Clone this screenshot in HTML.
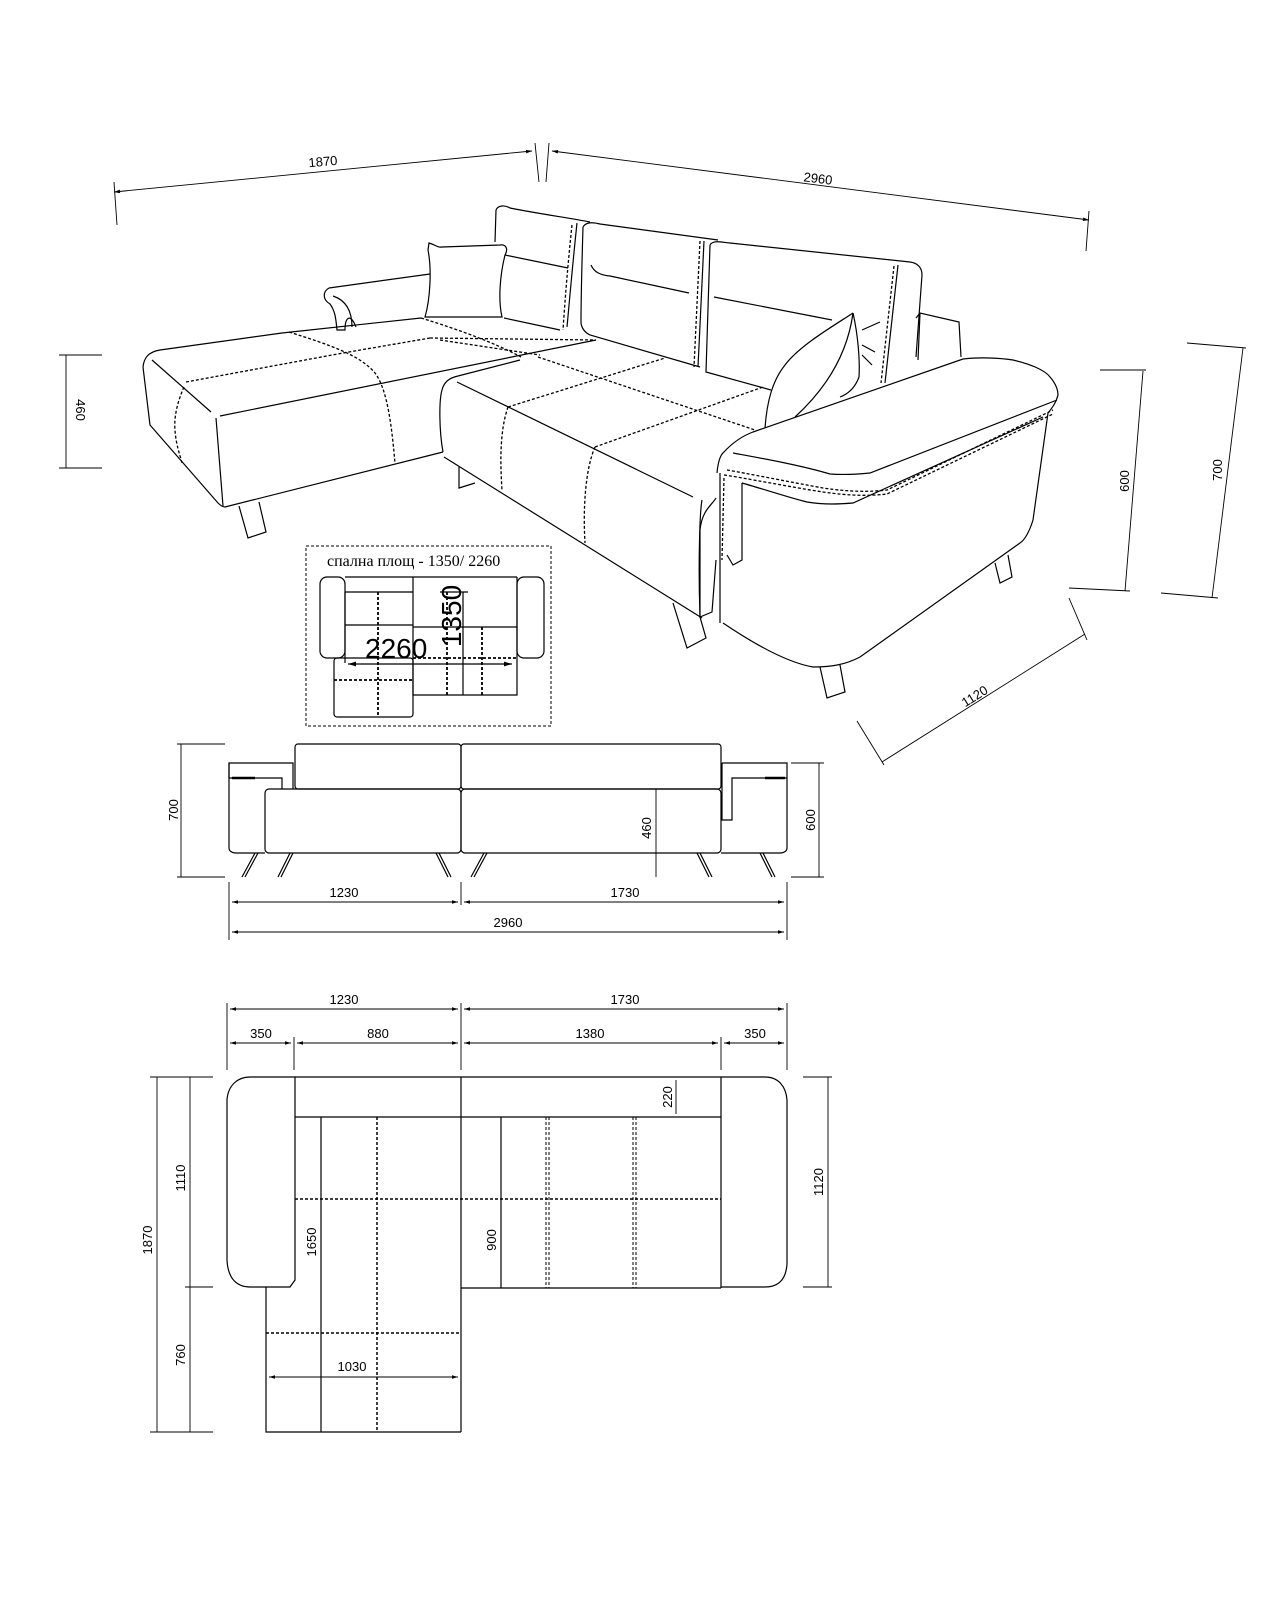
<!DOCTYPE html>
<html><head><meta charset="utf-8"><style>
html,body{margin:0;padding:0;background:#fff}
svg{display:block}
text{font-family:"Liberation Sans",sans-serif;font-size:13px;fill:#000}
.s{fill:none;stroke:#000;stroke-width:1.2}
.d{fill:none;stroke:#000;stroke-width:1.3;stroke-dasharray:3,2}
.t{fill:none;stroke:#000;stroke-width:0.9}
</style></head><body>
<svg width="1280" height="1600" viewBox="0 0 1280 1600" xmlns="http://www.w3.org/2000/svg">
<defs><marker id="a" viewBox="0 0 10 6" refX="10" refY="3" markerWidth="8" markerHeight="4" orient="auto-start-reverse"><path d="M0,0 L10,3 L0,6z" fill="#000"/></marker></defs>

<!-- ===== Perspective dims ===== -->
<g class="t">
<line x1="114" y1="192" x2="532" y2="151" marker-start="url(#a)" marker-end="url(#a)"/>
<line x1="114" y1="182" x2="117" y2="225"/><line x1="535" y1="143" x2="539" y2="182"/>
<line x1="552" y1="151" x2="1089" y2="220" marker-start="url(#a)" marker-end="url(#a)"/>
<line x1="549" y1="143" x2="546" y2="182"/><line x1="1089" y1="211" x2="1086" y2="251"/>
<line x1="66" y1="355" x2="66" y2="468"/><line x1="59" y1="355" x2="102" y2="355"/><line x1="59" y1="468" x2="102" y2="468"/>
<line x1="1143" y1="371" x2="1125" y2="591"/><line x1="1100" y1="370" x2="1146" y2="370"/><line x1="1069" y1="588" x2="1130" y2="591"/>
<line x1="1243" y1="348" x2="1212" y2="598"/><line x1="1187" y1="343" x2="1246" y2="348"/><line x1="1161" y1="593" x2="1218" y2="598"/>
<line x1="882" y1="762" x2="1085" y2="634"/><line x1="857" y1="721" x2="884" y2="765"/><line x1="1069" y1="598" x2="1087" y2="640"/>
</g>
<text x="323" y="166" text-anchor="middle" transform="rotate(-5 323 162)">1870</text>
<text x="818" y="183" text-anchor="middle" transform="rotate(7 818 179)">2960</text>
<text transform="translate(76,410) rotate(90)" text-anchor="middle">460</text>
<text transform="translate(1129,481) rotate(-90)" text-anchor="middle">600</text>
<text transform="translate(1222,470) rotate(-90)" text-anchor="middle">700</text>
<text transform="translate(977,700) rotate(-32)" text-anchor="middle">1120</text>

<!-- ===== Perspective sofa ===== -->
<g class="s">
<!-- left arm back -->
<path d="M329,288 L430,274"/>
<path d="M329,288 C322,292 323,300 330,304 C336,312 336,322 337,330 L345,330 C345,318 350,312 356,327"/>
<path d="M333,296 C345,300 352,310 352,327"/>
<!-- left pillow -->
<path d="M429,243 C436,245 438,248 442,247 L500,245 C507,244 508,250 505,255 C500,275 498,300 502,317 L425,317 C430,300 432,270 428,250 Z"/>
<!-- cushion 1 -->
<path d="M496,210 C498,205 505,205 510,208 C540,214 570,218 590,222"/>
<path d="M496,210 L495,242"/><path d="M505,255 L568,268"/>
<path d="M504,318 L560,330"/>
<path d="M577,223 C573,260 570,295 567,327"/>
<path d="M572,225 C568,262 565,300 563,330" class="d"/>
<!-- cushion 2 -->
<path d="M583,227 C586,222 592,222 600,224 L718,240"/>
<path d="M583,227 C582,260 581,300 581,323 C582,330 586,333 590,335 L700,367"/>
<path d="M591,265 C594,272 600,275 610,276 L689,293"/>
<path d="M704,241 L698,367"/><path d="M700,241 L694,367" class="d"/>
<!-- cushion 3 -->
<path d="M710,245 C713,240 720,242 730,243 L910,262 C918,263 922,268 922,275 L916,357"/>
<path d="M710,245 L706,372 L771,390"/>
<path d="M714,297 L832,320"/>
<path d="M898,265 L885,383"/><path d="M894,266 L881,383" class="d"/>
<!-- back box right -->
<path d="M916,318 L920,313 L959,322 L961,357"/><path d="M920,313 L918,360"/>
<!-- right pillow -->
<path d="M853,313 C835,325 800,345 785,365 C773,380 767,400 765,428"/>
<path d="M853,313 C848,350 830,385 795,417"/>
<path d="M853,313 C858,335 860,360 859,377 C855,388 848,394 840,397"/>
<path d="M862,330 L880,322 M862,345 L875,352 M862,355 L872,365"/>
<!-- chaise -->
<path d="M143,367 C144,358 148,352 160,350 L282,333 L421,318"/>
<path d="M143,367 L150,425 L218,503 C221,506 223,507 225,507 L443,452"/>
<path d="M152,360 L211,412"/>
<path d="M216,418 L223,506"/>
<path d="M220,416 L596,340"/>
<path d="M239,506 L248,538 L266,532 L259,502"/>
<!-- main seat -->
<path d="M443,452 C439,430 439,400 442,390 C444,382 449,378 458,376 L520,360"/>
<path d="M444,457 L702,618"/>
<path d="M457,382 L693,497"/>
<path d="M702,500 C700,510 698,560 700,617"/>
<path d="M459,467 L459,488 L475,483"/>
<path d="M673,603 L687,648 L706,638 L700,617"/>
<!-- arm (right) -->
<path d="M717,473 C718,462 720,455 724,452 C735,440 745,435 753,432 L963,359 C980,357 1000,358 1013,360 C1030,364 1045,370 1050,377 C1057,385 1058,392 1058,395 C1056,403 1052,408 1048,413 L1033,520 C1030,530 1025,540 1020,543 L860,657 C845,665 830,667 813,667 C790,663 760,648 723,623"/>
<path d="M720,473 L720,623"/>
<path d="M733,453 C760,458 800,465 830,474 C845,475 860,474 870,473 L1057,400"/>
<path d="M742,483 L742,560 L733,565 L727,555 M742,483 C760,488 790,498 807,502 C825,505 840,504 853,503 L1043,417"/>
<path d="M727,470 C745,473 790,482 823,488 C850,492 870,492 887,490 L1053,410" class="d"/>
<path d="M724,475 C745,478 790,487 823,492 C850,496 870,496 887,494 L1053,414" class="d"/>
<path d="M724,478 L722,560" class="d"/>
<path d="M716,498 C712,505 702,510 700,530 L700,617 L712,612 L716,560"/>
<path d="M820,667 L827,698 L845,692 L840,665"/>
<path d="M995,563 L1000,583 L1012,577 L1008,555"/>
</g>
<g class="d">
<path d="M186,382 L343,353 L430,338"/>
<path d="M184,387 C176,405 174,420 175,430 C176,445 180,455 182,463"/>
<path d="M289,332 C330,345 360,355 375,373 C388,390 392,430 395,463"/>
<path d="M421,318 C460,330 495,343 521,357"/>
<path d="M430,338 L596,340"/>
<path d="M508,407 L665,358"/>
<path d="M595,447 L763,387"/>
<path d="M508,407 C500,430 500,460 502,490"/>
<path d="M595,447 C585,470 583,510 585,543"/>
<path d="M538,357 L755,430"/>
<path d="M440,340 L540,355"/>
</g>

<!-- ===== Inset ===== -->
<rect x="306" y="546" width="245" height="180" class="d" style="stroke-width:1"/>
<text x="327" y="566" style="font-family:'Liberation Serif',serif;font-size:16px">спална площ - 1350/ 2260</text>
<g class="s">
<rect x="320" y="577" width="25" height="81" rx="7"/>
<rect x="517" y="577" width="27" height="81" rx="7"/>
<path d="M345,577 H517 M345,592 H413 M413,577 V695 H517 V577 M345,592 V663 M345,625 H413 M413,627 H517"/>
<rect x="334" y="658" width="79" height="59" rx="3"/>
<line x1="463" y1="592" x2="463" y2="695"/>
<line x1="440" y1="592" x2="468" y2="592"/>
<line x1="348" y1="664" x2="512" y2="664" marker-start="url(#a)" marker-end="url(#a)"/>
</g>
<g class="d" style="stroke-width:1.8">
<line x1="378" y1="592" x2="378" y2="717"/><line x1="334" y1="680" x2="413" y2="680"/>
<line x1="413" y1="658" x2="517" y2="658"/><line x1="447" y1="592" x2="447" y2="695"/>
<line x1="482" y1="627" x2="482" y2="695"/>
</g>
<text x="365" y="658" style="font-size:28px">2260</text>
<text transform="translate(461,616) rotate(-90)" text-anchor="middle" style="font-size:28px">1350</text>

<!-- ===== Front view ===== -->
<g class="s">
<rect x="295" y="744" width="166" height="45" rx="3"/>
<rect x="461" y="744" width="260" height="45" rx="3"/>
<rect x="265" y="789" width="196" height="64" rx="4"/>
<rect x="461" y="789" width="260" height="64" rx="4"/>
<path d="M282,789 V778 H229 V763 H293 V789"/>
<path d="M229,763 V848 C229,851 232,853 236,853 H265"/>
<path d="M232,778 H255" style="stroke-width:2.5"/>
<path d="M722,763 H787 V848 C787,851 784,853 780,853 H721"/>
<path d="M722,763 V820 H732 V778 H787"/>
<path d="M765,778 H785" style="stroke-width:2.5"/>
<path d="M255,853 L242,877 M258,853 L245,877 M290,853 L278,877 M293,853 L281,877 M436,853 L448,877 M439,853 L451,877 M484,853 L471,877 M487,853 L474,877 M697,853 L709,877 M700,853 L712,877 M760,853 L772,877 M763,853 L775,877"/>
</g>
<g class="t">
<line x1="656" y1="789" x2="656" y2="877"/>
<line x1="181" y1="744" x2="181" y2="877"/><line x1="177" y1="744" x2="225" y2="744"/><line x1="177" y1="877" x2="225" y2="877"/>
<line x1="819" y1="763" x2="819" y2="877"/><line x1="791" y1="763" x2="824" y2="763"/><line x1="791" y1="877" x2="824" y2="877"/>
<line x1="229" y1="882" x2="229" y2="940"/><line x1="461" y1="882" x2="461" y2="905"/><line x1="787" y1="882" x2="787" y2="940"/>
<line x1="232" y1="902" x2="458" y2="902" marker-start="url(#a)" marker-end="url(#a)"/>
<line x1="464" y1="902" x2="784" y2="902" marker-start="url(#a)" marker-end="url(#a)"/>
<line x1="232" y1="932" x2="784" y2="932" marker-start="url(#a)" marker-end="url(#a)"/>
</g>
<text transform="translate(651,828) rotate(-90)" text-anchor="middle">460</text>
<text transform="translate(178,810) rotate(-90)" text-anchor="middle">700</text>
<text transform="translate(815,820) rotate(-90)" text-anchor="middle">600</text>
<text x="344" y="897" text-anchor="middle">1230</text>
<text x="625" y="897" text-anchor="middle">1730</text>
<text x="508" y="927" text-anchor="middle">2960</text>

<!-- ===== Top view ===== -->
<g class="t">
<line x1="227" y1="1003" x2="227" y2="1070"/><line x1="294" y1="1037" x2="294" y2="1070"/>
<line x1="461" y1="1003" x2="461" y2="1070"/><line x1="721" y1="1037" x2="721" y2="1070"/>
<line x1="787" y1="1003" x2="787" y2="1070"/>
<line x1="230" y1="1009" x2="458" y2="1009" marker-start="url(#a)" marker-end="url(#a)"/>
<line x1="464" y1="1009" x2="784" y2="1009" marker-start="url(#a)" marker-end="url(#a)"/>
<line x1="230" y1="1043" x2="291" y2="1043" marker-start="url(#a)" marker-end="url(#a)"/>
<line x1="297" y1="1043" x2="458" y2="1043" marker-start="url(#a)" marker-end="url(#a)"/>
<line x1="464" y1="1043" x2="718" y2="1043" marker-start="url(#a)" marker-end="url(#a)"/>
<line x1="724" y1="1043" x2="784" y2="1043" marker-start="url(#a)" marker-end="url(#a)"/>
<line x1="157" y1="1077" x2="157" y2="1432"/><line x1="190" y1="1077" x2="190" y2="1432"/>
<line x1="150" y1="1077" x2="213" y2="1077"/><line x1="185" y1="1287" x2="213" y2="1287"/><line x1="150" y1="1432" x2="213" y2="1432"/>
<line x1="828" y1="1077" x2="828" y2="1287"/><line x1="803" y1="1077" x2="832" y2="1077"/><line x1="803" y1="1287" x2="832" y2="1287"/>
<line x1="269" y1="1377" x2="458" y2="1377" marker-start="url(#a)" marker-end="url(#a)"/>
<line x1="676" y1="1080" x2="676" y2="1114"/>
</g>
<g class="s">
<path d="M250,1077 H295 V1280 L290,1287 H250 C238,1287 228,1280 227,1260 V1100 C228,1085 238,1077 250,1077 Z"/>
<path d="M295,1077 H721 M295,1117 H721 M461,1077 V1432 M266,1287 V1432 H461"/>
<path d="M461,1288 H721 M721,1077 V1288"/>
<path d="M721,1077 H765 C778,1077 786,1086 787,1100 V1264 C786,1280 778,1287 765,1287 H721"/>
<line x1="321" y1="1117" x2="321" y2="1432"/>
<line x1="501" y1="1117" x2="501" y2="1288"/>
</g>
<g class="d" style="stroke-width:1.5">
<line x1="377" y1="1117" x2="377" y2="1432"/>
<line x1="295" y1="1199" x2="721" y2="1199"/>
<line x1="266" y1="1333" x2="461" y2="1333"/>
<line x1="546" y1="1117" x2="546" y2="1288" style="stroke-width:1"/><line x1="549" y1="1117" x2="549" y2="1288" style="stroke-width:1"/>
<line x1="633" y1="1117" x2="633" y2="1288" style="stroke-width:1"/><line x1="636" y1="1117" x2="636" y2="1288" style="stroke-width:1"/>
</g>
<text x="344" y="1004" text-anchor="middle">1230</text>
<text x="625" y="1004" text-anchor="middle">1730</text>
<text x="261" y="1038" text-anchor="middle">350</text>
<text x="378" y="1038" text-anchor="middle">880</text>
<text x="590" y="1038" text-anchor="middle">1380</text>
<text x="755" y="1038" text-anchor="middle">350</text>
<text transform="translate(672,1097) rotate(-90)" text-anchor="middle">220</text>
<text transform="translate(316,1242) rotate(-90)" text-anchor="middle">1650</text>
<text transform="translate(496,1240) rotate(-90)" text-anchor="middle">900</text>
<text transform="translate(152,1240) rotate(-90)" text-anchor="middle">1870</text>
<text transform="translate(185,1178) rotate(-90)" text-anchor="middle">1110</text>
<text transform="translate(185,1355) rotate(-90)" text-anchor="middle">760</text>
<text transform="translate(823,1182) rotate(-90)" text-anchor="middle">1120</text>
<text x="352" y="1371" text-anchor="middle">1030</text>
</svg>
</body></html>
